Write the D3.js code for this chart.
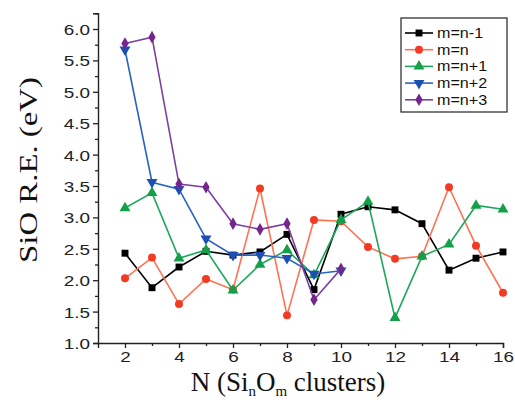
<!DOCTYPE html>
<html><head><meta charset="utf-8">
<script src="https://cdn.jsdelivr.net/npm/d3@7"></script>
<style>body{margin:0;background:#fff}svg{display:block}</style>
</head><body>
<svg id="chart" width="515" height="400"></svg>
<script>
const N = [2,3,4,5,6,7,8,9,10,11,12,13,14,15,16];
const seriesNames = ["m=n-1","m=n","m=n+1","m=n+2","m=n+3"];
const sNm1 = [2.43,1.88,2.21,2.46,2.40,2.45,2.73,1.85,3.05,3.17,3.12,2.90,2.16,2.35,2.45];
const sN   = [2.03,2.36,1.62,2.02,1.85,3.46,1.44,2.96,2.94,2.53,2.34,2.38,3.48,2.55,1.80];
const sNp1 = [3.15,3.39,2.35,2.48,1.84,2.25,2.48,2.08,2.96,3.25,1.40,2.38,2.57,3.19,3.13];
const sNp2 = [5.67,3.56,3.45,2.66,2.40,2.40,2.35,2.10,2.15];
const sNp3 = [5.77,5.87,3.53,3.48,2.90,2.81,2.90,1.69,2.18];
const yTicks = [1.0,1.5,2.0,2.5,3.0,3.5,4.0,4.5,5.0,5.5,6.0];
const xTicks = [2,4,6,8,10,12,14,16];

const styles = [
  {line:"#000000", fill:"#000000", sym:d3.symbolSquare, size:48},
  {line:"#ff7252", fill:"#f33a24", sym:d3.symbolCircle, size:50},
  {line:"#1ca85c", fill:"#14a04a", sym:d3.symbolTriangle, size:52, rot:0},
  {line:"#2a62c4", fill:"#1c4fb4", sym:d3.symbolTriangle, size:52, rot:180},
  {line:"#7d3fa0", fill:"#74268c", sym:d3.symbolDiamond, size:46}
];
const allSeries = [sNm1,sN,sNp1,sNp2,sNp3];

const svg = d3.select("#chart");
const x = d3.scaleLinear().domain([1,16]).range([98,503]);
const y = d3.scaleLinear().domain([1,6.25]).range([343,13.3]);

function stretch(sel, f){
  sel.each(function(){
    const w = this.getComputedTextLength();
    d3.select(this).attr("textLength", w*f).attr("lengthAdjust","spacingAndGlyphs");
  });
}

// axes
const xAxis = d3.axisBottom(x).tickValues(xTicks).tickSize(5).tickPadding(3).tickFormat(d3.format("d"));
const xMinor = d3.axisBottom(x).tickValues(d3.range(3,16,2)).tickSize(3).tickFormat("");
const yAxis = d3.axisLeft(y).tickValues(yTicks).tickSize(5).tickPadding(3).tickFormat(d3.format(".1f"));
const yMinor = d3.axisLeft(y).tickValues(d3.range(1.25,6.3,0.5)).tickSize(3).tickFormat("");

const gxm = svg.append("g").attr("transform","translate(0,343)").call(xMinor);
const gx = svg.append("g").attr("transform","translate(0,343)").call(xAxis);
const gym = svg.append("g").attr("transform","translate(98,0)").call(yMinor);
const gy = svg.append("g").attr("transform","translate(98,0)").call(yAxis);
[gx,gxm,gy,gym].forEach(g=>{
  g.select(".domain").attr("stroke","#222").attr("stroke-width",1.4);
  g.selectAll(".tick line").attr("stroke","#222").attr("stroke-width",1.3);
});
gxm.select(".domain").remove(); gym.select(".domain").remove();
gx.selectAll("text").attr("font-family","'Liberation Sans',Arial,sans-serif").attr("font-size",15.5).attr("fill","#222");
gy.selectAll("text").attr("font-family","'Liberation Sans',Arial,sans-serif").attr("font-size",15.5).attr("fill","#222").attr("dy","0.36em");
stretch(gx.selectAll("text"),1.22);
stretch(gy.selectAll("text"),1.22);

// series
allSeries.forEach((vals,i)=>{
  const st = styles[i];
  const pts = vals.map((v,j)=>[N[j],v]);
  svg.append("path").datum(pts)
    .attr("fill","none").attr("stroke",st.line).attr("stroke-width",1.6)
    .attr("d", d3.line().x(d=>x(d[0])).y(d=>y(d[1])));
  svg.append("g").selectAll("path").data(pts).join("path")
    .attr("d", d3.symbol().type(st.sym).size(st.size))
    .attr("transform", d=>`translate(${x(d[0])},${y(d[1])})` + (st.rot?` rotate(${st.rot})`:""))
    .attr("fill", st.fill);
});

// legend
const lg = svg.append("g");
lg.append("rect").attr("x",401).attr("y",18).attr("width",106).attr("height",94)
  .attr("fill","#fff").attr("stroke","#333").attr("stroke-width",1.3);
seriesNames.forEach((name,i)=>{
  const st = styles[i];
  const yy = 33 + i*16.7;
  lg.append("line").attr("x1",405).attr("x2",433).attr("y1",yy).attr("y2",yy)
    .attr("stroke",st.line).attr("stroke-width",1.6);
  lg.append("path").attr("d", d3.symbol().type(st.sym).size(st.size))
    .attr("transform",`translate(419,${yy})`+(st.rot?` rotate(${st.rot})`:""))
    .attr("fill",st.fill);
  const t = lg.append("text").attr("x",437).attr("y",yy).attr("dy","0.36em")
    .attr("font-family","'Liberation Sans',Arial,sans-serif").attr("font-size",14)
    .attr("fill","#111").text(name);
  stretch(t,1.15);
});

// y label
const yl = svg.append("text").attr("transform","translate(37,170) rotate(-90)")
  .attr("text-anchor","middle").attr("font-family","'Liberation Serif','Times New Roman',serif")
  .attr("font-size",26).attr("fill","#111").text("SiO R.E. (eV)");
yl.attr("textLength",186).attr("lengthAdjust","spacingAndGlyphs");

// x label
const xl = svg.append("text").attr("x",288).attr("y",391).attr("text-anchor","middle")
  .attr("font-family","'Liberation Serif','Times New Roman',serif").attr("font-size",27).attr("fill","#111");
xl.append("tspan").text("N (Si");
xl.append("tspan").attr("font-size",15).attr("dy",5).text("n");
xl.append("tspan").attr("dy",-5).text("O");
xl.append("tspan").attr("font-size",15).attr("dy",5).text("m");
xl.append("tspan").attr("dy",-5).text(" clusters)");
</script>
</body></html>
